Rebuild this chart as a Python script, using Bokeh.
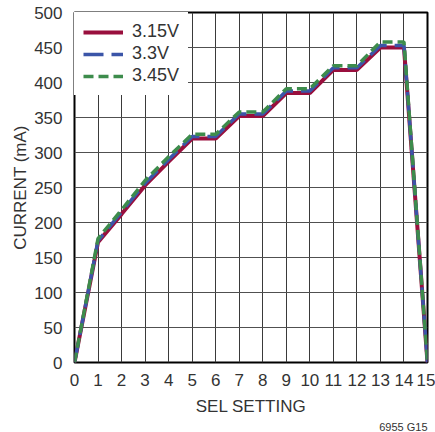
from bokeh.plotting import figure
from bokeh.models import Range1d, FixedTicker, Legend, LegendItem, Title
from bokeh.embed import file_html
from bokeh.resources import INLINE

sel = list(range(16))
i_315 = [0, 172, 212, 253, 287, 320, 320, 352, 352, 385, 385, 418, 418, 450, 450, 0]
i_33 = [0, 174, 215, 256, 290, 323, 323, 355, 355, 388, 388, 421, 421, 453, 453, 0]
i_345 = [0, 177, 218, 260, 294, 326, 326, 358, 358, 391, 391, 424, 424, 458, 458, 0]
series_names = ["3.15V", "3.3V", "3.45V"]
x_ticks = list(range(16))
y_ticks = list(range(0, 501, 50))

FONT = "Liberation Sans"
TXT = "#333333"

p = figure(width=435, height=432, output_backend="svg", toolbar_location=None,
           x_range=Range1d(0, 15), y_range=Range1d(0, 500),
           min_border_left=74, min_border_right=8, min_border_top=12, min_border_bottom=69)
p.background_fill_color = "white"
p.border_fill_color = "white"
p.outline_line_color = "black"
p.outline_line_width = 2

p.xaxis.ticker = FixedTicker(ticks=x_ticks)
p.yaxis.ticker = FixedTicker(ticks=y_ticks)
for ax in (p.xaxis[0], p.yaxis[0]):
    ax.axis_line_color = None
    ax.major_tick_line_color = None
    ax.minor_tick_line_color = None
    ax.major_label_text_font = FONT
    ax.major_label_text_font_size = "17px"
    ax.major_label_text_color = TXT
    ax.axis_label_text_font = FONT
    ax.axis_label_text_font_size = "17px"
    ax.axis_label_text_font_style = "normal"
    ax.axis_label_text_color = TXT
p.xaxis.axis_label = "SEL SETTING"
p.yaxis.axis_label = "CURRENT (mA)"
p.xaxis.major_label_standoff = 5
p.yaxis.major_label_standoff = 6
p.xaxis.axis_label_standoff = 8
p.yaxis.axis_label_standoff = 1

p.xgrid.grid_line_color = "#3a3a3a"
p.ygrid.grid_line_color = "#505050"
p.xgrid.grid_line_width = 1
p.ygrid.grid_line_width = 1

r1 = p.line(sel, i_315, line_color="#990f3d", line_width=4)
r2 = p.line(sel, i_33, line_color="#3b55a8", line_width=3.5, line_dash="20 8")
r3 = p.line(sel, i_345, line_color="#3d8c4c", line_width=3.5, line_dash="10 5")

legend = Legend(items=[LegendItem(label=series_names[0], renderers=[r1]),
                       LegendItem(label=series_names[1], renderers=[r2]),
                       LegendItem(label=series_names[2], renderers=[r3])],
                location="top_left", margin=0, padding=9, spacing=1,
                glyph_width=40, glyph_height=20, label_height=20, label_standoff=9,
                label_text_font=FONT, label_text_font_size="18px", label_text_color=TXT,
                border_line_alpha=0, background_fill_color="white", background_fill_alpha=1)
p.add_layout(legend)

note = Title(text="6955 G15", align="right", text_font=FONT, text_font_size="11px",
             text_font_style="normal", text_color=TXT, offset=0, standoff=0)
p.add_layout(note, "below")

open("out.html", "w").write(file_html(p, INLINE))
